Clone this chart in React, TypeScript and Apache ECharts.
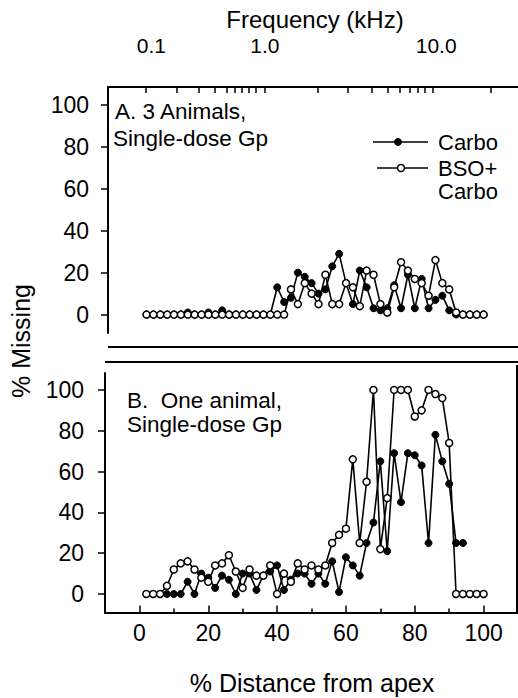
import React, { useEffect, useRef } from "react";
import * as echarts from "echarts";

const FONT = '"Liberation Sans", Arial, Helvetica, sans-serif';

// % distance from apex at which each cochlear segment was counted
const distancePct = [
  2, 4, 6, 8, 10, 12, 14, 16, 18, 20, 22, 24, 26, 28, 30, 32, 34, 36, 38, 40,
  42, 44, 46, 48, 50, 52, 54, 56, 58, 60, 62, 64, 66, 68, 70, 72, 74, 76, 78, 80,
  82, 84, 86, 88, 90, 92, 94, 96, 98, 100,
];

// Panel A: 3 animals, single-dose Gp (% missing)
const carboA = [
  0, 0, 0, 0, 0, 0, 1, 0, 0, 1, 0, 2, 0, 0, 0, 0, 0, 0, 0, 13,
  6, 8, 20, 18, 15, 10, 12, 23, 29, 15, 5, 21, 13, 3, 2, 3, 14, 3, 19, 3,
  17, 3, 7, 9, 2, 0, 0, 0, 0, 0,
];
const bsoCarboA = [
  0, 0, 0, 0, 0, 0, 0, 0, 0, 0, 0, 0, 0, 0, 0, 0, 0, 0, 0, 0,
  0, 12, 5, 15, 10, 5, 19, 5, 5, 15, 13, 4, 21, 19, 5, 1, 13, 25, 21, 17,
  15, 9, 26, 15, 12, 1, 0, 0, 0, 0,
];

// Panel B: one animal, single-dose Gp (% missing)
const carboBDistance = [
  8, 10, 12, 14, 16, 18, 20, 22, 24, 26, 28, 30, 32, 34, 36, 38, 40, 42, 44, 46,
  48, 50, 52, 54, 56, 58, 60, 62, 64, 66, 68, 70, 72, 74, 76, 78, 80, 82, 84, 86,
  88, 90, 92, 94,
];
const carboB = [
  0, 0, 0, 6, 0, 10, 8, 3, 9, 7, 0, 10, 10, 2, 9, 11, 14, 2, 7, 10,
  10, 5, 10, 5, 16, 1, 18, 14, 9, 25, 35, 65, 21, 69, 45, 69, 68, 63, 25, 78,
  65, 54, 25, 25,
];
const bsoCarboB = [
  0, 0, 0, 4, 12, 15, 16, 12, 8, 6, 14, 15, 19, 11, 3, 12, 9, 9, 14, 0,
  10, 6, 15, 12, 14, 12, 14, 25, 29, 32, 66, 25, 55, 100, 22, 47, 100, 100, 100, 87,
  90, 100, 98, 96, 74, 0, 0, 0, 0, 0,
];

// Frequency scale along the top: tick marks (kHz) placed at their % distance
const freqTickKHz = [0.1, 0.2, 0.3, 0.4, 0.5, 0.6, 0.7, 0.8, 0.9, 1, 2, 3, 4, 5, 6, 7, 8, 9, 10, 20];
const freqTickDistance = [
  1.9, 10.7, 17.2, 21.8, 25.2, 27.6, 29.8, 31.8, 33.9, 36.3,
  51.8, 60.6, 67.4, 72.2, 75.6, 78.5, 80.9, 82.8, 85.3, 102.2,
];
// Labelled frequencies and the % distance each label is centred on
const freqLabels = ["0.1", "1.0", "10.0"];
const freqLabelDistance = [3.4, 36.4, 86.2];

const missingTicks = [0, 20, 40, 60, 80, 100];
const distanceMajorTicks = [0, 20, 40, 60, 80, 100];
const distanceMinorTicks = [10, 30, 50, 70, 90];

const pairs = (xs: number[], ys: number[]) => ys.map((y, i) => [xs[i], y]);

const axisLineStyle = { color: "#000", width: 2 };
const tickStyle = { color: "#000", width: 1.5 };
const labelStyle = { color: "#000", fontFamily: FONT, fontSize: 23 };

function filledSeries(name: string, data: number[][], xi: number, yi: number) {
  return {
    name,
    type: "line",
    xAxisIndex: xi,
    yAxisIndex: yi,
    data,
    symbol: "circle",
    symbolSize: 7,
    showAllSymbol: true,
    itemStyle: { color: "#000", borderColor: "#000", borderWidth: 1 },
    lineStyle: { color: "#000", width: 1.6 },
    emphasis: { disabled: true },
    z: 2,
  };
}

function openSeries(name: string, data: number[][], xi: number, yi: number) {
  return {
    name,
    type: "line",
    xAxisIndex: xi,
    yAxisIndex: yi,
    data,
    symbol: "circle",
    symbolSize: 7,
    showAllSymbol: true,
    itemStyle: { color: "#fff", borderColor: "#000", borderWidth: 1.5 },
    lineStyle: { color: "#000", width: 1.6 },
    emphasis: { disabled: true },
    z: 3,
  };
}

function missingAxis(gridIndex: number, min: number, max: number, margin: number) {
  return {
    type: "value",
    gridIndex,
    min,
    max,
    axisLine: { show: true, onZero: false, lineStyle: axisLineStyle },
    axisTick: { show: true, inside: false, length: 7, lineStyle: tickStyle, customValues: missingTicks },
    axisLabel: { ...labelStyle, margin, customValues: missingTicks },
    splitLine: { show: false },
  };
}

export default function App() {
  const ref = useRef<HTMLDivElement>(null);

  useEffect(() => {
    if (!ref.current) return;
    const chart = echarts.init(ref.current, null, { renderer: "svg" });

    const text = (t: string, x: number, y: number, size: number, extra: any = {}) => ({
      type: "text",
      x,
      y,
      style: {
        text: t,
        fill: "#000",
        font: `${size}px ${FONT}`,
        textAlign: "left",
        textVerticalAlign: "middle",
        ...extra,
      },
    });
    const hline = (x1: number, x2: number, y: number) => ({
      type: "line",
      shape: { x1, y1: y, x2, y2: y },
      style: { stroke: "#000", lineWidth: 2 },
    });

    chart.setOption({
      animation: false,
      backgroundColor: "#fff",
      grid: [
        { left: 108, top: 87, width: 410, height: 246, outerBoundsMode: "none" },
        { left: 105, top: 373, width: 413, height: 239.5, outerBoundsMode: "none" },
      ],
      xAxis: [
        {
          type: "value",
          gridIndex: 0,
          position: "top",
          min: -9.2,
          max: 110,
          axisLine: { show: true, onZero: false, lineStyle: axisLineStyle },
          axisTick: { show: true, inside: true, length: 6, lineStyle: tickStyle, customValues: freqTickDistance },
          axisLabel: {
            ...labelStyle,
            fontSize: 21,
            margin: 31,
            customValues: freqLabelDistance,
            formatter: (v: number) => {
              let best = 0;
              freqLabelDistance.forEach((d, i) => {
                if (Math.abs(d - v) < Math.abs(freqLabelDistance[best] - v)) best = i;
              });
              return freqLabels[best];
            },
          },
          splitLine: { show: false },
        },
        {
          type: "value",
          gridIndex: 1,
          position: "bottom",
          min: -10,
          max: 110,
          axisLine: { show: true, onZero: false, lineStyle: axisLineStyle },
          axisTick: { show: true, inside: true, length: 7, lineStyle: tickStyle, customValues: distanceMajorTicks },
          axisLabel: { ...labelStyle, margin: 9, customValues: distanceMajorTicks },
          splitLine: { show: false },
        },
        {
          type: "value",
          gridIndex: 1,
          position: "bottom",
          min: -10,
          max: 110,
          axisLine: { show: false, onZero: false },
          axisTick: { show: true, inside: true, length: 4, lineStyle: tickStyle, customValues: distanceMinorTicks },
          axisLabel: { show: false },
          splitLine: { show: false },
        },
      ],
      yAxis: [missingAxis(0, -8.8, 108.6, 19), missingAxis(1, -9.07, 108.3, 21)],
      series: [
        filledSeries("Carbo", pairs(distancePct, carboA), 0, 0),
        openSeries("BSO+Carbo", pairs(distancePct, bsoCarboA), 0, 0),
        filledSeries("Carbo", pairs(carboBDistance, carboB), 1, 1),
        openSeries("BSO+Carbo", pairs(distancePct, bsoCarboB), 1, 1),
      ],
      graphic: [
        text("Frequency (kHz)", 315, 19, 24, { textAlign: "center" }),
        text("% Distance from apex", 312, 683, 25, { textAlign: "center" }),
        {
          type: "text",
          x: 21,
          y: 341,
          rotation: Math.PI / 2,
          style: {
            text: "% Missing",
            fill: "#000",
            font: `25px ${FONT}`,
            textAlign: "center",
            textVerticalAlign: "middle",
          },
        },
        hline(108, 518, 347),
        hline(105, 518, 362),
        {
          type: "line",
          shape: { x1: 517, y1: 365, x2: 517, y2: 612.5 },
          style: { stroke: "#000", lineWidth: 2 },
        },
        text("A. 3 Animals,", 115, 111, 22.5),
        text("Single-dose Gp", 113, 138, 22.5),
        text("B.  One animal,", 127, 400, 22.5),
        text("Single-dose Gp", 127, 424, 22.5),
        // legend
        {
          type: "line",
          shape: { x1: 373, y1: 142, x2: 428, y2: 142 },
          style: { stroke: "#000", lineWidth: 1.6 },
        },
        { type: "circle", shape: { cx: 398, cy: 142, r: 3.5 }, style: { fill: "#000", stroke: "#000" } },
        text("Carbo", 438, 142, 22),
        {
          type: "line",
          shape: { x1: 377, y1: 168, x2: 428, y2: 168 },
          style: { stroke: "#000", lineWidth: 1.6 },
        },
        {
          type: "circle",
          shape: { cx: 401, cy: 168, r: 3.5 },
          style: { fill: "#fff", stroke: "#000", lineWidth: 1.5 },
        },
        text("BSO+", 438, 168, 22),
        text("Carbo", 438, 191, 22),
      ],
    });

    return () => chart.dispose();
  }, []);

  return (
    <div
      ref={ref}
      style={{ position: "fixed", left: 0, top: 0, width: 518, height: 698, background: "#fff" }}
    />
  );
}
